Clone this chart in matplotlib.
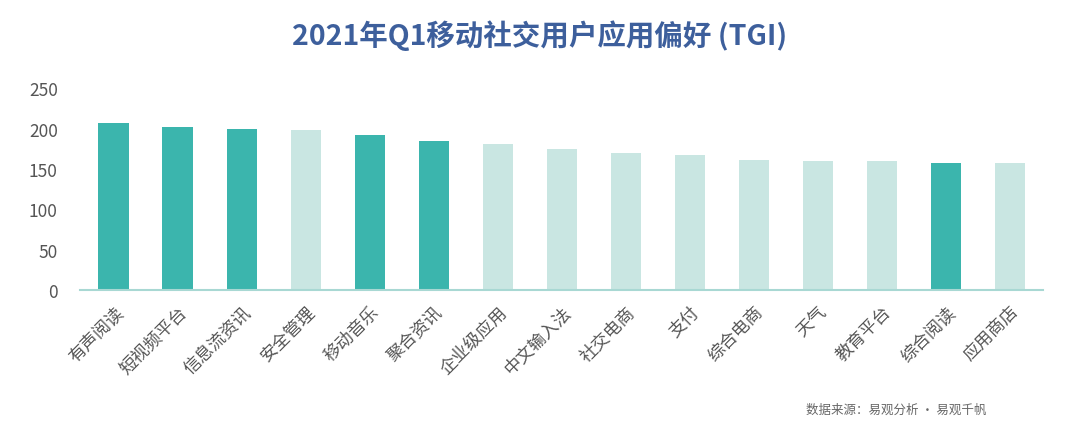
import matplotlib
matplotlib.use("Agg")
from matplotlib import pyplot as plt

plt.rcParams['font.family'] = ['Noto Sans CJK SC', 'DejaVu Sans']

apps = ['有声阅读', '短视频平台', '信息流资讯', '安全管理', '移动音乐', '聚合资讯',
        '企业级应用', '中文输入法', '社交电商', '支付', '综合电商', '天气',
        '教育平台', '综合阅读', '应用商店']
tgi = [207, 202, 200, 198, 192, 185, 181, 175, 170, 168, 161, 160, 160, 158, 157]
highlight = [True, True, True, False, True, True, False, False, False, False,
             False, False, False, True, False]

dark = '#3bb5ad'
light = '#c9e6e2'
colors = [dark if h else light for h in highlight]

fig = plt.figure(figsize=(10.8, 4.35), dpi=100)
ax = fig.add_axes([0.074, 0.331, 0.892, 0.482])

x = range(len(apps))
ax.bar(x, tgi, width=0.48, color=colors)

ax.set_xlim(-0.53, len(apps) - 0.48)
ax.set_ylim(0, 260)
ax.set_yticks([0, 50, 100, 150, 200, 250])
ax.set_xticks(list(x))
ax.set_xticklabels(apps, rotation=45, ha='right', rotation_mode='anchor',
                   fontsize=12.5, color='#555555')
ax.tick_params(axis='y', labelsize=12.5, labelcolor='#555555', length=0, pad=16)
ax.tick_params(axis='x', length=0, pad=9)

for s in ['top', 'right', 'left']:
    ax.spines[s].set_visible(False)
ax.spines['bottom'].set_color('#a8d8d3')
ax.spines['bottom'].set_linewidth(1.5)

fig.text(0.5, 0.918, '2021年Q1移动社交用户应用偏好 (TGI)', ha='center', va='center',
         fontsize=20.5, fontweight='bold', color='#3d5f9c')
fig.text(0.913, 0.057, '数据来源：易观分析 · 易观千帆', ha='right', va='center',
         fontsize=9, color='#666666')

fig.savefig('out.png', dpi=100)
